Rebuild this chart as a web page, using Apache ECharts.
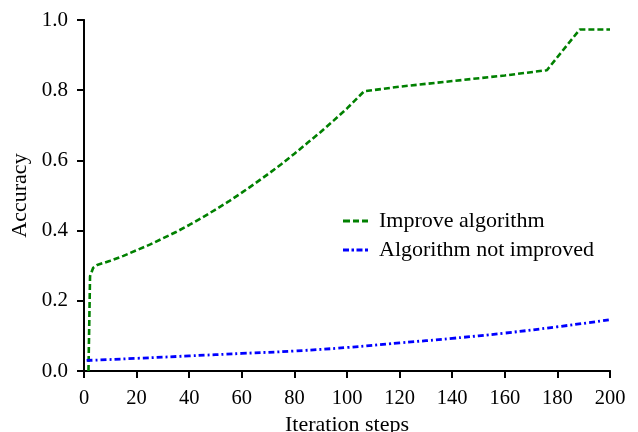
<!DOCTYPE html>
<html><head><meta charset="utf-8">
<script src="https://cdn.jsdelivr.net/npm/echarts@6/dist/echarts.min.js"></script>
<style>html,body{margin:0;padding:0;background:#fff}#c{width:638px;height:432px}</style>
</head><body><div id="c"></div>
<script>
const improvedX = [1.7, 2.3, 3.5, 5, 10, 15, 20, 25, 30, 35, 40, 45, 50, 55, 60, 65, 70, 75, 80, 85, 90, 95, 100, 106.5, 120, 140, 160, 176, 188.5, 200];
const improvedY = [0, 0.27, 0.294, 0.302, 0.314, 0.328, 0.344, 0.360, 0.378, 0.396, 0.416, 0.437, 0.460, 0.483, 0.508, 0.534, 0.561, 0.589, 0.619, 0.650, 0.681, 0.714, 0.748, 0.797, 0.81, 0.826, 0.842, 0.857, 0.973, 0.973];
const notImprovedX = [1, 20, 40, 60, 80, 100, 120, 140, 160, 180, 200];
const notImprovedY = [0.030, 0.036, 0.043, 0.050, 0.057, 0.067, 0.080, 0.093, 0.108, 0.126, 0.146];
const seriesNames = ['Improve algorithm', 'Algorithm not improved'];
const xLabel = 'Iteration steps';
const yLabel = 'Accuracy';

const font = 'Liberation Serif';
const fsX = 20.5;
const fsY = 21;
const fsName = 22;
const pair = (xs, ys) => xs.map((x, i) => [x, ys[i]]);
const axisLine = {show: true, lineStyle: {color: '#000', width: 1.8}};
const tickStyle = {color: '#000', width: 1.8};
const chart = echarts.init(document.getElementById('c'));
chart.setOption({
  animation: false,
  backgroundColor: '#fff',
  textStyle: {fontFamily: font},
  grid: {left: 84, width: 526, top: 20, height: 351, containLabel: false, outerBoundsMode: 'none'},
  xAxis: [
    {type: 'value', min: 0, max: 200, interval: 20, name: xLabel, nameLocation: 'middle', nameGap: 41,
     nameTextStyle: {fontFamily: font, fontSize: fsName, color: '#000'},
     axisLine: axisLine, axisTick: {show: true, inside: false, length: 7, lineStyle: tickStyle},
     axisLabel: {fontFamily: font, fontSize: fsX, color: '#000', margin: 17}, splitLine: {show: false}},
    {type: 'value', min: 0, max: 200, interval: 20, position: 'top',
     axisLine: axisLine, axisTick: {show: true, inside: true, length: 7, lineStyle: tickStyle},
     axisLabel: {show: false}, splitLine: {show: false}}
  ],
  yAxis: [
    {type: 'value', min: 0, max: 1, interval: 0.2, name: yLabel, nameLocation: 'middle', nameGap: 52,
     nameTextStyle: {fontFamily: font, fontSize: fsName, color: '#000'},
     axisLine: axisLine, axisTick: {show: true, inside: false, length: 7, lineStyle: tickStyle},
     axisLabel: {fontFamily: font, fontSize: fsY, color: '#000', margin: 16, formatter: v => v.toFixed(1)}, splitLine: {show: false}},
    {type: 'value', min: 0, max: 1, interval: 0.2, position: 'right',
     axisLine: axisLine, axisTick: {show: true, inside: true, length: 7, lineStyle: tickStyle},
     axisLabel: {show: false}, splitLine: {show: false}}
  ],
  legend: {
    orient: 'vertical', left: 338, top: 205, itemWidth: 25, itemHeight: 3, itemGap: 7,
    data: [
      {name: seriesNames[0], icon: 'path://M0,0h7v3h-7zM10,0h6v3h-6zM19,0h6v3h-6z'},
      {name: seriesNames[1], icon: 'path://M0,0h6v3h-6zM8.5,0h2.5v3h-2.5zM13.5,0h6v3h-6zM22,0h3v3h-3z'}
    ],
    textStyle: {fontFamily: font, fontSize: fsName, color: '#000', padding: [0, 0, 0, 6]}
  },
  series: [
    {name: seriesNames[0], type: 'line', data: pair(improvedX, improvedY), symbol: 'none', smooth: false,
     lineStyle: {color: '#008000', width: 2.6, type: [6, 3]}, itemStyle: {color: '#008000'}},
    {name: seriesNames[1], type: 'line', data: pair(notImprovedX, notImprovedY), symbol: 'none', smooth: true,
     lineStyle: {color: '#0000ff', width: 2.8, type: [6, 3, 2, 3]}, itemStyle: {color: '#0000ff'}}
  ]
});
</script></body></html>
